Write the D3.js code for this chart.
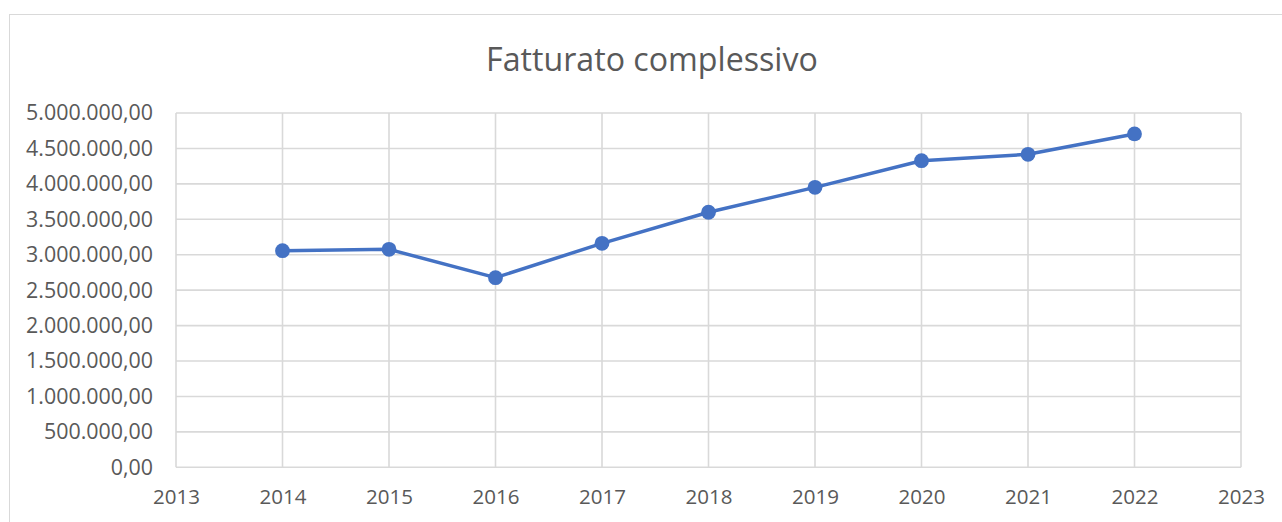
<!DOCTYPE html>
<html><head><meta charset="utf-8">
<script src="https://cdn.jsdelivr.net/npm/d3@7"></script>
<style>body{margin:0;background:#fff;} svg{display:block;}</style>
</head><body>
<svg id="c" width="1282" height="522"></svg>
<script>
const years = [2014, 2015, 2016, 2017, 2018, 2019, 2020, 2021, 2022];
const fatturato = [3057000, 3076000, 2676000, 3161000, 3599000, 3951000, 4327000, 4417000, 4704000];
const yTicks = [0, 500000, 1000000, 1500000, 2000000, 2500000, 3000000, 3500000, 4000000, 4500000, 5000000];
const xTicks = [2013, 2014, 2015, 2016, 2017, 2018, 2019, 2020, 2021, 2022, 2023];
const title = "Fatturato complessivo";

const svg = d3.select("#c");
const font = "Open Sans, Lato, sans-serif";
const L = 176, R = 1241, T = 113, B = 467.3;

svg.append("rect").attr("x", 9.5).attr("y", 14.5).attr("width", 1300).attr("height", 600)
  .attr("fill", "#fff").attr("stroke", "#d9d9d9").attr("stroke-width", 1);

const x = d3.scaleLinear().domain([2013, 2023]).range([L, R]);
const y = d3.scaleLinear().domain([0, 5000000]).range([B, T]);

const fmt = v => {
  const s = d3.format(",.2f")(v);
  return s.replace(/,/g, "#").replace(".", ",").replace(/#/g, ".");
};

// grid
const g = svg.append("g");
g.selectAll(".hg").data(yTicks).join("line")
  .attr("x1", L).attr("x2", R).attr("y1", d => y(d)).attr("y2", d => y(d))
  .attr("stroke", "#d9d9d9").attr("stroke-width", 1.6);
g.selectAll(".vg").data(xTicks).join("line")
  .attr("y1", T).attr("y2", B).attr("x1", d => x(d)).attr("x2", d => x(d))
  .attr("stroke", "#d9d9d9").attr("stroke-width", 1.6);

// axes
const yAxis = d3.axisLeft(y).tickValues(yTicks).tickFormat(fmt).tickSize(0).tickPadding(23);
const ya = svg.append("g").attr("transform", `translate(${L},0)`).call(yAxis);
ya.select(".domain").remove();
ya.selectAll("text").attr("font-family", font).attr("font-size", 17).attr("fill", "#595959");

const xAxis = d3.axisBottom(x).tickValues(xTicks).tickFormat(d3.format("d")).tickSize(0).tickPadding(22);
const xa = svg.append("g").attr("transform", `translate(0,${B})`).call(xAxis);
xa.select(".domain").remove();
xa.selectAll("text").attr("font-family", font).attr("font-size", 17).attr("fill", "#595959");

// fit fonts to measured widths
function fit(sel, target) {
  const n = sel.node();
  const w = n.getComputedTextLength();
  const fs = parseFloat(sel.attr("font-size"));
  return fs * target / w;
}
const yfs = fit(ya.selectAll("text").filter(d => d === 5000000), 127);
ya.selectAll("text").attr("font-size", yfs);
const xfs = fit(xa.selectAll("text").filter(d => d === 2013), 47);
xa.selectAll("text").attr("font-size", xfs);

// line
const line = d3.line().x((d, i) => x(years[i])).y(d => y(d));
svg.append("path").datum(fatturato).attr("d", line)
  .attr("fill", "none").attr("stroke", "#4472c4").attr("stroke-width", 3.5).attr("stroke-linejoin", "round");
svg.selectAll(".pt").data(fatturato).join("circle")
  .attr("cx", (d, i) => x(years[i])).attr("cy", d => y(d)).attr("r", 7.4).attr("fill", "#4472c4");

// title
const t = svg.append("text").attr("x", 652).attr("y", 71).attr("text-anchor", "middle")
  .attr("font-family", font).attr("font-size", 28).attr("fill", "#595959").text(title);
t.attr("font-size", fit(t, 332));
</script>
</body></html>
